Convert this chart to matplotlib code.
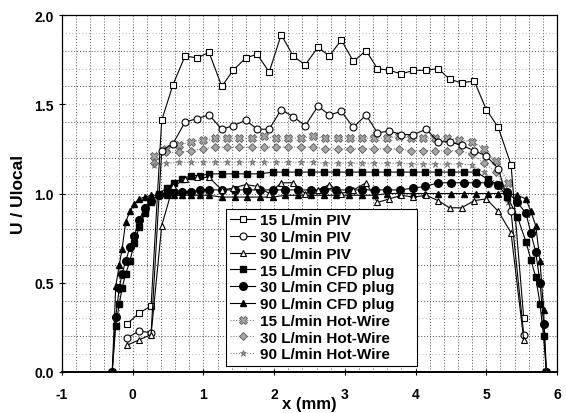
import matplotlib
matplotlib.use('Agg')
import matplotlib.pyplot as plt
from matplotlib.ticker import FormatStrFormatter

plt.rcParams['font.family'] = ['Liberation Sans', 'DejaVu Sans']
plt.rcParams['font.weight'] = 'bold'
plt.rcParams['axes.unicode_minus'] = False

# ---------------- data ----------------
x_piv = [-0.08, 0.09, 0.26, 0.41, 0.57, 0.74, 0.91, 1.08, 1.26, 1.42, 1.60, 1.76,
         1.93, 2.10, 2.27, 2.44, 2.62, 2.78, 2.95, 3.12, 3.30, 3.46, 3.63, 3.80,
         3.97, 4.15, 4.32, 4.48, 4.65, 4.83, 5.00, 5.17, 5.35, 5.53]
piv_15 = [0.27, 0.33, 0.37, 1.41, 1.61, 1.77, 1.76, 1.79, 1.60, 1.69, 1.76, 1.78,
          1.68, 1.89, 1.77, 1.72, 1.82, 1.77, 1.86, 1.74, 1.80, 1.70, 1.69, 1.67,
          1.69, 1.69, 1.70, 1.64, 1.62, 1.63, 1.47, 1.37, 1.16, 0.30]
piv_30 = [0.19, 0.23, 0.22, 1.24, 1.28, 1.40, 1.42, 1.44, 1.36, 1.38, 1.41, 1.36,
          1.36, 1.47, 1.43, 1.38, 1.49, 1.44, 1.46, 1.37, 1.44, 1.34, 1.35, 1.33,
          1.33, 1.36, 1.29, 1.29, 1.27, 1.24, 1.21, 1.14, 0.90, 0.21]
piv_90 = [0.15, 0.18, 0.21, 0.82, 1.04, 1.08, 1.09, 1.09, 1.02, 1.03, 1.05, 1.04,
          1.00, 1.06, 1.06, 1.00, 1.02, 1.05, 1.00, 1.02, 1.06, 0.95, 0.97, 0.99,
          0.98, 0.99, 0.96, 0.92, 0.92, 0.96, 0.97, 0.90, 0.78, 0.18]

x_cfd = [-0.29, -0.24, -0.19, -0.15, -0.10, -0.04, 0.02, 0.09, 0.17, 0.26, 0.37,
         0.48, 0.58, 0.70, 0.82, 0.95, 1.08, 1.26, 1.44, 1.62, 1.80, 1.98, 2.16,
         2.34, 2.52, 2.70, 2.88, 3.06, 3.24, 3.42, 3.60, 3.78, 3.96, 4.14, 4.32,
         4.50, 4.68, 4.86, 5.02, 5.16, 5.30, 5.44, 5.56, 5.63, 5.70, 5.76, 5.81, 5.85]
cfd_15 = [0.00, 0.26, 0.38, 0.47, 0.55, 0.62, 0.72, 0.81, 0.89, 0.95, 1.00,
          1.03, 1.06, 1.08, 1.10, 1.10, 1.11, 1.11, 1.11, 1.11, 1.11, 1.12, 1.12,
          1.12, 1.12, 1.12, 1.12, 1.12, 1.12, 1.12, 1.12, 1.12, 1.12, 1.12, 1.12,
          1.12, 1.12, 1.12, 1.08, 1.05, 0.98, 0.87, 0.73, 0.63, 0.53, 0.38, 0.20, 0.00]
cfd_30 = [0.00, 0.31, 0.47, 0.55, 0.62, 0.70, 0.76, 0.85, 0.92, 0.96, 0.99,
          1.00, 1.01, 1.01, 1.01, 1.02, 1.02, 1.02, 1.02, 1.02, 1.02, 1.02, 1.02,
          1.02, 1.02, 1.02, 1.02, 1.02, 1.02, 1.02, 1.02, 1.02, 1.03, 1.04, 1.06,
          1.06, 1.06, 1.06, 1.06, 1.05, 1.01, 0.95, 0.89, 0.78, 0.67, 0.50, 0.27, 0.00]
cfd_90 = [0.00, 0.48, 0.60, 0.69, 0.84, 0.90, 0.94, 0.97, 0.98, 0.99, 0.99,
          0.99, 0.99, 0.99, 0.99, 0.99, 0.99, 0.98, 0.98, 0.98, 0.98, 0.98, 0.99,
          0.99, 0.99, 0.99, 0.99, 0.99, 0.99, 0.99, 1.00, 1.00, 1.00, 1.00, 1.00,
          1.00, 1.00, 1.00, 1.00, 1.00, 1.00, 0.99, 0.97, 0.90, 0.82, 0.62, 0.35, 0.00]

x_hw = [0.30, 0.47, 0.65, 0.82, 0.99, 1.17, 1.34, 1.51, 1.68, 1.86, 2.03, 2.20,
        2.38, 2.55, 2.72, 2.90, 3.07, 3.24, 3.41, 3.59, 3.76, 3.93, 4.11, 4.28,
        4.45, 4.62, 4.80, 4.97, 5.14, 5.31]
hw_15 = [1.21, 1.25, 1.27, 1.29, 1.30, 1.31, 1.31, 1.31, 1.31, 1.32, 1.31, 1.31,
         1.31, 1.32, 1.31, 1.31, 1.31, 1.31, 1.31, 1.31, 1.32, 1.31, 1.31, 1.31,
         1.31, 1.30, 1.29, 1.25, 1.18, 1.06]
hw_30 = [1.17, 1.23, 1.23, 1.24, 1.25, 1.26, 1.26, 1.26, 1.26, 1.26, 1.26, 1.26,
         1.26, 1.26, 1.25, 1.25, 1.25, 1.25, 1.25, 1.25, 1.25, 1.24, 1.24, 1.24,
         1.24, 1.24, 1.22, 1.17, 1.12, 1.00]
hw_90 = [1.16, 1.17, 1.175, 1.175, 1.175, 1.175, 1.175, 1.175, 1.175, 1.175, 1.175, 1.175,
         1.175, 1.175, 1.17, 1.17, 1.17, 1.17, 1.17, 1.17, 1.17, 1.165, 1.165, 1.165,
         1.165, 1.165, 1.16, 1.12, 1.06, 0.95]

labels = ['15 L/min PIV', '30 L/min PIV', '90 L/min PIV',
          '15 L/min CFD plug', '30 L/min CFD plug', '90 L/min CFD plug',
          '15 L/min Hot-Wire', '30 L/min Hot-Wire', '90 L/min Hot-Wire']
x_ticks = [-1, 0, 1, 2, 3, 4, 5, 6]
y_ticks = [0.0, 0.5, 1.0, 1.5, 2.0]

# ---------------- figure ----------------
fig = plt.figure(figsize=(5.66, 4.14), dpi=100)
ax = fig.add_axes([62/566, 1-373/414, 495/566, 357/414])
ax.set_xlim(-1, 6)
ax.set_ylim(0, 2.0)

# grid
gkw = dict(color='0.3', linestyle=(0, (1, 2)), linewidth=0.7, zorder=0)
for i in range(1, 35):
    ax.axvline(-1 + 0.2 * i, **gkw)
for j in range(1, 20):
    if j % 2 == 0:
        ax.axhline(0.1 * j, **gkw)
    else:
        ax.axhline(0.1 * j, color='0.65', linestyle=(0, (1, 3)), linewidth=0.6, zorder=0)

lw = 0.8
gray = '0.5'
h = []
h += ax.plot(x_piv, piv_15, '-', color='k', lw=lw, marker='s', ms=5, mfc='white', mec='k', mew=0.8, zorder=5)
h += ax.plot(x_piv, piv_30, '-', color='k', lw=lw, marker='o', ms=5, mfc='white', mec='k', mew=0.8, zorder=5)
h += ax.plot(x_piv, piv_90, '-', color='k', lw=lw, marker='^', ms=5, mfc='white', mec='k', mew=0.8, zorder=5)
h += ax.plot(x_cfd, cfd_15, '-', color='k', lw=lw, marker='s', ms=5, mfc='k', mec='k', zorder=4)
h += ax.plot(x_cfd, cfd_30, '-', color='k', lw=lw, marker='o', ms=5.5, mfc='k', mec='k', zorder=4)
h += ax.plot(x_cfd, cfd_90, '-', color='k', lw=lw, marker='^', ms=5, mfc='k', mec='k', zorder=4)
h += ax.plot(x_hw, hw_15, linestyle=(0, (1, 1.5)), color=gray, lw=lw, marker='X', ms=5.5, mfc='0.65', mec='0.35', mew=0.6, zorder=3)
h += ax.plot(x_hw, hw_30, linestyle=(0, (1, 1.5)), color=gray, lw=lw, marker='D', ms=4, mfc='0.65', mec='0.35', mew=0.6, zorder=3)
h += ax.plot(x_hw, hw_90, linestyle=(0, (1, 1.5)), color=gray, lw=lw, marker='*', ms=5, mfc='0.6', mec='0.4', mew=0.5, zorder=3)

# axes styling
ax.set_xticks(x_ticks)
ax.set_yticks(y_ticks)
ax.yaxis.set_major_formatter(FormatStrFormatter('%.1f'))
ax.tick_params(axis='both', direction='inout', length=5, width=0.8, labelsize=10, colors='k')
ax.tick_params(axis='x', pad=8)
for lab in ax.get_xticklabels() + ax.get_yticklabels():
    lab.set_fontweight('bold')
for side in ['top', 'right', 'left']:
    ax.spines[side].set_linewidth(0.9)
ax.spines['bottom'].set_linewidth(1.4)

ax.set_xlabel('x (mm)', fontsize=12, fontweight='bold', labelpad=-3)
ax.set_ylabel('U / Ulocal', fontsize=12.5, fontweight='bold', labelpad=6)

leg = ax.legend(h, labels, loc='lower left', bbox_to_anchor=(0.331, 0.017, 0.386, 0.44),
                mode='expand', borderaxespad=0, labelspacing=0.18, handlelength=1.6,
                handletextpad=0.35, borderpad=0.3, frameon=True, fancybox=False,
                framealpha=1, edgecolor='k', prop={'weight': 'bold', 'size': 11})
leg.get_frame().set_linewidth(0.8)
leg.set_zorder(10)

fig.savefig('out.png', dpi=100)
